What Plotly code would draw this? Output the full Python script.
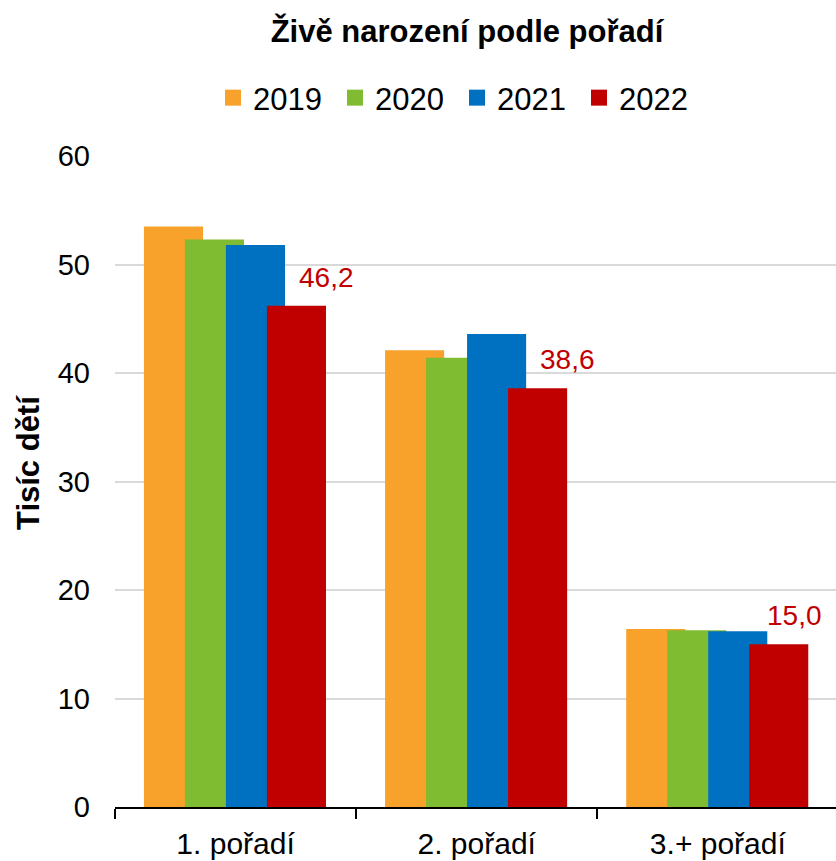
import plotly.graph_objects as go

categories = ["1. pořadí", "2. pořadí", "3.+ pořadí"]
years = ["2019", "2020", "2021", "2022"]
v2019 = [53.5, 42.1, 16.4]
v2020 = [52.3, 41.4, 16.3]
v2021 = [51.8, 43.6, 16.2]
v2022 = [46.2, 38.6, 15.0]
colors = ["#F8A12B", "#80BC31", "#0070C0", "#C00000"]

series = [v2019, v2020, v2021, v2022]
offsets = [-0.38, -0.21, -0.04, 0.13]
label_shift = [91, 91, 77]
FONT = "Liberation Sans, Arial, sans-serif"

fig = go.Figure()
for name, vals, col, off in zip(years, series, colors, offsets):
    fig.add_trace(go.Bar(
        x=categories, y=vals, name=name, legendgroup=name, showlegend=False,
        marker=dict(color=col, line=dict(width=0)),
        width=0.245, offset=off,
    ))
# legend entries with larger square swatches
for name, col in zip(years, colors):
    fig.add_trace(go.Scatter(
        x=[None], y=[None], mode="markers", name=name, legendgroup=name,
        marker=dict(symbol="square", size=16, color=col),
        showlegend=True,
    ))

for cat, v, sh in zip(categories, v2022, label_shift):
    fig.add_annotation(
        x=cat, y=v, text=f"{v:.1f}".replace(".", ","),
        showarrow=False, xshift=sh, yanchor="bottom", yshift=11,
        font=dict(family=FONT, size=28, color="#C00000"),
    )

fig.add_annotation(
    text="<b>Tisíc dětí</b>", textangle=-90, showarrow=False,
    xref="paper", yref="paper", x=(28 - 115) / 721, y=(807 - 463) / 651,
    xanchor="center", yanchor="middle",
    font=dict(family=FONT, size=31, color="black"),
)

fig.update_layout(
    width=836, height=861,
    barmode="overlay",
    paper_bgcolor="white", plot_bgcolor="white",
    margin=dict(l=115, r=0, t=156, b=54),
    font=dict(family=FONT, size=29, color="black"),
    title=dict(text="<b>Živě narození podle pořadí</b>", x=467 / 836, xanchor="center",
               y=1 - 31 / 861, yanchor="middle", yref="container",
               font=dict(family=FONT, size=31, color="black")),
    legend=dict(orientation="h", x=457 / 836, xanchor="center", xref="container",
                y=1 - 98 / 861, yanchor="middle", yref="container",
                font=dict(family=FONT, size=31), itemwidth=30, entrywidth=77,
                traceorder="normal", itemsizing="trace"),
    showlegend=True,
)
fig.update_xaxes(
    type="category", range=[-0.5, 2.49],
    showline=True, linecolor="black", linewidth=1.5,
    ticks="outside", tickson="boundaries", ticklen=10, tickcolor="black", tickwidth=1.5,
    showgrid=False, tickfont=dict(family=FONT, size=30), ticklabelstandoff=9,
)
fig.update_yaxes(
    range=[0, 60], dtick=10, showline=False, ticks="",
    gridcolor="#D9D9D9", gridwidth=1.5, zeroline=False,
    ticklabelstandoff=24, tickfont=dict(family=FONT, size=29),
)

fig.write_html("out.html", config={"displayModeBar": False},
               post_script="document.body.style.margin='0';")
